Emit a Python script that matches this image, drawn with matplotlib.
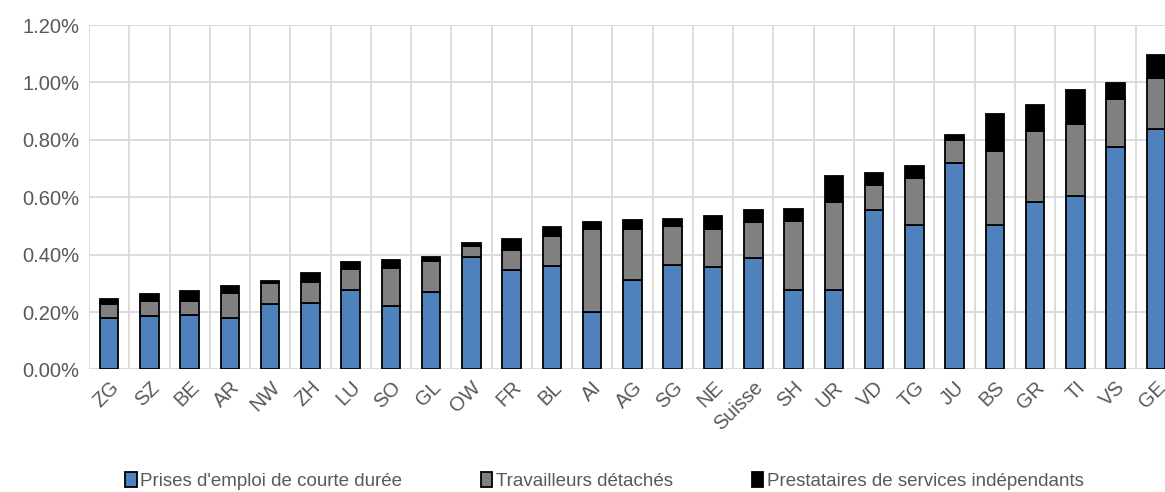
import numpy as np
import matplotlib
matplotlib.use("Agg")
import matplotlib.pyplot as plt
from matplotlib.ticker import FuncFormatter, MultipleLocator

plt.rcParams['font.family'] = ['Liberation Sans', 'DejaVu Sans']

# ===== données (part en %) =====
cantons = ["ZG", "SZ", "BE", "AR", "NW", "ZH", "LU", "SO", "GL", "OW", "FR", "BL", "AI",
           "AG", "SG", "NE", "Suisse", "SH", "UR", "VD", "TG", "JU", "BS", "GR", "TI", "VS", "GE"]
courte_duree = [0.180, 0.186, 0.190, 0.180, 0.227, 0.230, 0.277, 0.222, 0.271, 0.392, 0.346,
                0.361, 0.199, 0.311, 0.363, 0.358, 0.390, 0.277, 0.277, 0.554, 0.505, 0.718,
                0.503, 0.585, 0.606, 0.775, 0.839]
detaches = [0.048, 0.052, 0.048, 0.085, 0.075, 0.075, 0.073, 0.132, 0.106, 0.038, 0.070,
            0.104, 0.292, 0.178, 0.137, 0.132, 0.123, 0.240, 0.307, 0.090, 0.162, 0.080,
            0.257, 0.246, 0.250, 0.169, 0.177]
independants = [0.016, 0.025, 0.034, 0.026, 0.008, 0.030, 0.025, 0.027, 0.015, 0.009, 0.037,
                0.033, 0.023, 0.031, 0.025, 0.044, 0.044, 0.041, 0.090, 0.042, 0.041, 0.018,
                0.129, 0.092, 0.117, 0.055, 0.079]
series_labels = ["Prises d'emploi de courte durée", "Travailleurs détachés",
                 "Prestataires de services indépendants"]

BLUE = "#4f81bd"
GREY = "#808080"
BLACK = "#000000"
TXT = "#595959"
GRID = "#d9d9d9"

fig = plt.figure(figsize=(11.65, 4.92), dpi=100)
ax = fig.add_axes([0.0764, 0.249, 0.9330, 0.700])

x = np.arange(len(cantons))
cd = np.array(courte_duree); dt = np.array(detaches); ind = np.array(independants)
w = 0.46
b1 = ax.bar(x, cd, w, color=BLUE, edgecolor=BLACK, lw=1.3, label=series_labels[0], zorder=3)
b2 = ax.bar(x, dt, w, bottom=cd, color=GREY, edgecolor=BLACK, lw=1.3, label=series_labels[1], zorder=3)
b3 = ax.bar(x, ind, w, bottom=cd + dt, color=BLACK, edgecolor=BLACK, lw=1.3, label=series_labels[2], zorder=3)

ax.set_ylim(0, 1.2)
ax.set_xlim(-0.5, len(cantons) - 0.5)
ax.yaxis.set_major_locator(MultipleLocator(0.2))
ax.yaxis.set_major_formatter(FuncFormatter(lambda v, p: f"{v:.2f}%"))
ax.set_xticks(x)
ax.set_xticks(np.arange(-0.5, len(cantons)), minor=True)
ax.set_xticklabels(cantons, rotation=45, ha="right", va="top", rotation_mode="anchor")
ax.tick_params(axis="both", which="both", length=0, colors=TXT, labelsize=14.5)
ax.tick_params(axis="x", pad=6)
ax.tick_params(axis="y", pad=7)
ax.grid(axis="y", which="major", color=GRID, lw=1.3, zorder=0)
ax.grid(axis="x", which="minor", color=GRID, lw=1.3, zorder=0)
for s in ax.spines.values():
    s.set_visible(False)

fig.legend(handles=[b1, b2, b3], loc="center", bbox_to_anchor=(0.519, 0.022), ncol=3,
           frameon=False, fontsize=13.5, labelcolor=TXT, handlelength=0.6, handleheight=0.8,
           handletextpad=0.2, columnspacing=4.2)

fig.savefig("out.png", dpi=100)
